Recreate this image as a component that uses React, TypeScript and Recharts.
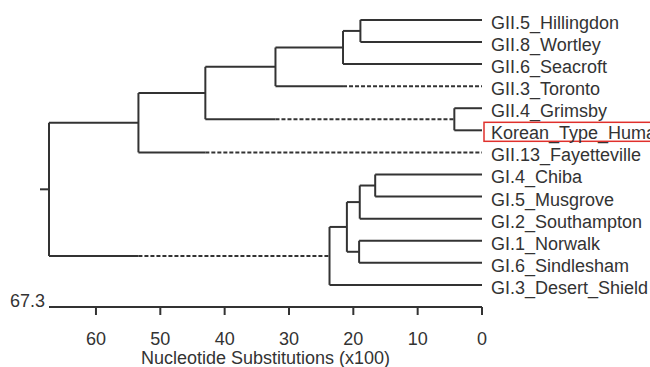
import { ComposedChart, XAxis, YAxis, ReferenceLine } from "recharts"

// leaves, top to bottom
const leaves = [
  "GII.5_Hillingdon",
  "GII.8_Wortley",
  "GII.6_Seacroft",
  "GII.3_Toronto",
  "GII.4_Grimsby",
  "Korean_Type_Human",
  "GII.13_Fayetteville",
  "GI.4_Chiba",
  "GI.5_Musgrove",
  "GI.2_Southampton",
  "GI.1_Norwalk",
  "GI.6_Sindlesham",
  "GI.3_Desert_Shield",
]

// internal nodes (merge order)
const nodeIds = ["n1", "n2", "n3", "n4", "n5", "n6", "n7", "n8", "n9", "n10", "n11", "root"]
const nodeLeft = ["GII.5_Hillingdon", "n1", "n2", "GII.4_Grimsby", "n3", "n5", "GI.4_Chiba", "n7", "GI.1_Norwalk", "n8", "n10", "n6"]
const nodeRight = ["GII.8_Wortley", "GII.6_Seacroft", "GII.3_Toronto", "Korean_Type_Human", "n4", "GII.13_Fayetteville", "GI.5_Musgrove", "GI.2_Southampton", "GI.6_Sindlesham", "n9", "GI.3_Desert_Shield", "n11"]
const nodeHeight = [18.9, 21.6, 32.1, 4.3, 43.0, 53.4, 16.6, 19.0, 19.1, 21.0, 23.7, 67.3]

// branches drawn dashed from this height down to the child
const dashedBranches = ["GII.3_Toronto", "n4", "GII.13_Fayetteville", "n11"]
const dashedFrom = [21.6, 32.1, 43.0, 53.4]

const xTicks = [0, 10, 20, 30, 40, 50, 60]
const rootStub = 1.4
const highlighted = "Korean_Type_Human"

const FONT = "'Liberation Sans', Arial, sans-serif"
const INK = "#333"

type Seg = { x1: number; y1: number; x2: number; y2: number; dashed: boolean }

function buildSegments(): Seg[] {
  const pos = new Map<string, { h: number; row: number }>()
  leaves.forEach((name, i) => pos.set(name, { h: 0, row: i }))
  const segs: Seg[] = []
  nodeIds.forEach((id, i) => {
    const a = pos.get(nodeLeft[i])!
    const b = pos.get(nodeRight[i])!
    const h = nodeHeight[i]
    const row = (a.row + b.row) / 2
    pos.set(id, { h, row })
    segs.push({ x1: h, y1: a.row, x2: h, y2: b.row, dashed: false })
    ;[nodeLeft[i], nodeRight[i]].forEach((child) => {
      const c = pos.get(child)!
      const di = dashedBranches.indexOf(child)
      if (di >= 0) {
        segs.push({ x1: h, y1: c.row, x2: dashedFrom[di], y2: c.row, dashed: false })
        segs.push({ x1: dashedFrom[di], y1: c.row, x2: c.h, y2: c.row, dashed: true })
      } else {
        segs.push({ x1: h, y1: c.row, x2: c.h, y2: c.row, dashed: false })
      }
    })
  })
  const root = pos.get("root")!
  segs.push({ x1: root.h + rootStub, y1: root.row, x2: root.h, y2: root.row, dashed: false })
  return segs
}

function LeafTick(props: any) {
  const { x, y, payload } = props
  const name = leaves[payload.value]
  return (
    <g>
      {name === highlighted && (
        <rect x={x - 7} y={y - 8} width={220} height={19} fill="none" stroke="#e0302c" strokeWidth={1.5} />
      )}
      <text x={x} y={y + 9} fontSize={18} fontFamily={FONT} fill={INK} textAnchor="start">
        {name}
      </text>
    </g>
  )
}

export default function App() {
  const segs = buildSegments()
  return (
    <div style={{ position: "absolute", left: 0, top: 0 }}>
      <ComposedChart width={650} height={367} margin={{ top: 0, right: 0, left: 49, bottom: 0 }}>
        <XAxis
          type="number"
          dataKey="h"
          domain={[0, 67.3]}
          reversed
          allowDataOverflow
          ticks={xTicks}
          height={60}
          tickSize={8}
          tickMargin={17}
          stroke={INK}
          strokeWidth={2}
          tick={{ fontSize: 18, fontFamily: FONT, fill: INK }}
          label={{
            value: "Nucleotide Substitutions (x100)",
            position: "insideBottom",
            offset: 3,
            fontSize: 18,
            fontFamily: FONT,
            fill: INK,
          }}
        />
        <YAxis
          type="number"
          orientation="right"
          domain={[-0.9, 13]}
          reversed
          allowDataOverflow
          ticks={leaves.map((_, i) => i)}
          interval={0}
          width={168}
          axisLine={false}
          tickLine={false}
          tickSize={0}
          tickMargin={9}
          tick={<LeafTick />}
        />
        {segs.map((s, i) => (
          <ReferenceLine
            key={i}
            segment={[
              { x: s.x1, y: s.y1 },
              { x: s.x2, y: s.y2 },
            ]}
            stroke={INK}
            strokeWidth={2}
            strokeDasharray={s.dashed ? "4 2" : undefined}
            ifOverflow="visible"
          />
        ))}
        <ReferenceLine
          x={67.3}
          stroke="none"
          ifOverflow="visible"
          label={{
            content: (p: any) => (
              <text
                x={p.viewBox.x - 4}
                y={p.viewBox.y + p.viewBox.height}
                textAnchor="end"
                fontSize={18}
                fontFamily={FONT}
                fill={INK}
              >
                67.3
              </text>
            ),
          }}
        />
      </ComposedChart>
    </div>
  )
}
